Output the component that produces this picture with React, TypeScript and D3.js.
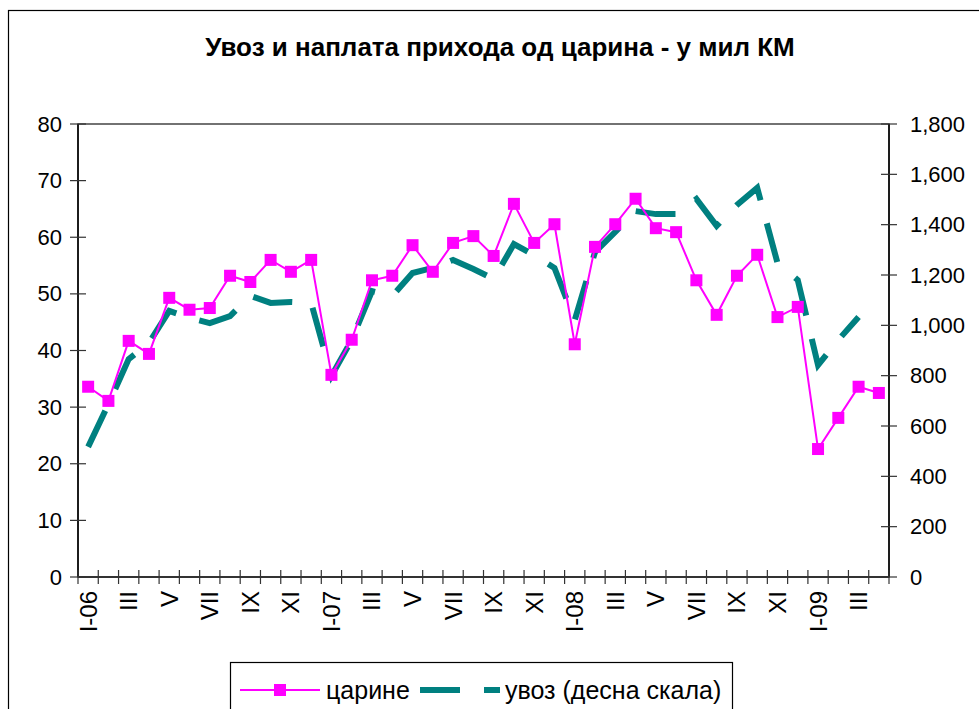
import React from 'react'
import * as d3 from 'd3'

// months Jan 2006 - Apr 2009
const months = [
  'I-06', 'II', 'III', 'IV', 'V', 'VI', 'VII', 'VIII', 'IX', 'X', 'XI', 'XII',
  'I-07', 'II', 'III', 'IV', 'V', 'VI', 'VII', 'VIII', 'IX', 'X', 'XI', 'XII',
  'I-08', 'II', 'III', 'IV', 'V', 'VI', 'VII', 'VIII', 'IX', 'X', 'XI', 'XII',
  'I-09', 'II', 'III', 'IV'
]

// царине, left scale
const customs = [
  33.6, 31.1, 41.7, 39.4, 49.3, 47.2, 47.5, 53.2, 52.1, 56.0, 53.9, 56.0,
  35.7, 41.9, 52.4, 53.2, 58.6, 53.9, 59.0, 60.2, 56.7, 65.9, 59.0, 62.3,
  41.1, 58.3, 62.3, 66.8, 61.6, 60.9, 52.4, 46.3, 53.2, 56.9, 45.9, 47.7,
  22.6, 28.1, 33.6, 32.5
]

// увоз, right scale (ends in March 2009)
const imports = [
  517, 687, 866, 930, 1057, 1029, 1009, 1037, 1117, 1089, 1093, 1089,
  799, 942, 1136, 1117, 1208, 1228, 1260, 1224, 1184, 1323, 1279, 1228,
  1021, 1291, 1371, 1454, 1442, 1442, 1502, 1395, 1478, 1546, 1248, 1180,
  842, 942, 1033
]

const leftTicks = [0, 10, 20, 30, 40, 50, 60, 70, 80]
const rightTicks = [0, 200, 400, 600, 800, 1000, 1200, 1400, 1600, 1800]

const title = 'Увоз и наплата прихода од царина - у мил КМ'
const font = '"Liberation Sans", Arial, sans-serif'

export default function App() {
  const plot = { left: 78, right: 889, top: 124, bottom: 577 }

  const x = d3.scaleBand<number>()
    .domain(d3.range(months.length))
    .range([plot.left, plot.right])
  const cx = (i: number) => (x(i) as number) + x.bandwidth() / 2

  const yLeft = d3.scaleLinear().domain([0, 80]).range([plot.bottom, plot.top])
  const yRight = d3.scaleLinear().domain([0, 1800]).range([plot.bottom, plot.top])

  const customsLine = d3.line<number>()
    .x((d, i) => cx(i))
    .y(d => yLeft(d))
  const importsLine = d3.line<number>()
    .x((d, i) => cx(i))
    .y(d => yRight(d))

  const boundaries = d3.range(months.length + 1).map(i => plot.left + i * x.step())

  return (
    <svg width={979} height={709} style={{ position: 'absolute', left: 0, top: 0 }} fontFamily={font}>
      <rect x={0} y={0} width={979} height={709} fill="#fff" />
      <rect x={8.5} y={10.5} width={1100} height={1000} fill="none" stroke="#000" strokeWidth={1.2} />

      <text x={500} y={56} textAnchor="middle" fontSize={26} fontWeight="bold">{title}</text>

      {/* plot frame */}
      <rect x={plot.left} y={plot.top} width={plot.right - plot.left} height={plot.bottom - plot.top}
        fill="none" stroke="#444" strokeWidth={1.5} />
      <line x1={plot.left} x2={plot.left} y1={plot.top} y2={plot.bottom} stroke="#000" strokeWidth={1.5} />
      <line x1={plot.right} x2={plot.right} y1={plot.top} y2={plot.bottom} stroke="#000" strokeWidth={1.5} />
      <line x1={plot.left} x2={plot.right} y1={plot.bottom} y2={plot.bottom} stroke="#333" strokeWidth={2} />

      {/* left axis */}
      {leftTicks.map(t => (
        <g key={'l' + t}>
          <line x1={plot.left - 8} x2={plot.left + 8} y1={yLeft(t)} y2={yLeft(t)} stroke="#333" strokeWidth={1.2} />
          <text x={62} y={yLeft(t)} textAnchor="end" dominantBaseline="central" fontSize={22}>{t}</text>
        </g>
      ))}

      {/* right axis */}
      {rightTicks.map(t => (
        <g key={'r' + t}>
          <line x1={plot.right - 8} x2={plot.right + 8} y1={yRight(t)} y2={yRight(t)} stroke="#333" strokeWidth={1.2} />
          <text x={910} y={yRight(t)} textAnchor="start" dominantBaseline="central" fontSize={22}>
            {d3.format(',')(t)}
          </text>
        </g>
      ))}

      {/* category ticks */}
      {boundaries.map((b, i) => (
        <line key={'b' + i} x1={b} x2={b} y1={plot.bottom - 7} y2={plot.bottom + 7} stroke="#333" strokeWidth={1.2} />
      ))}
      {months.map((m, i) => i % 2 === 0 ? (
        <text key={'m' + i} transform={`translate(${cx(i)},591) rotate(-90)`}
          textAnchor="end" dominantBaseline="central" fontSize={24}>{m}</text>
      ) : null)}

      {/* увоз */}
      <path d={importsLine(imports) || ''} fill="none" stroke="#008080" strokeWidth={6}
        strokeDasharray="40 24" />

      {/* царине */}
      <path d={customsLine(customs) || ''} fill="none" stroke="#ff00ff" strokeWidth={2} />
      {customs.map((v, i) => (
        <rect key={'p' + i} x={cx(i) - 6} y={yLeft(v) - 6} width={12} height={12} fill="#ff00ff" />
      ))}

      {/* legend */}
      <rect x={230.5} y={662.5} width={502} height={80} fill="#fff" stroke="#000" strokeWidth={1.2} />
      <line x1={240} x2={320} y1={690} y2={690} stroke="#ff00ff" strokeWidth={2} />
      <rect x={274} y={684} width={12} height={12} fill="#ff00ff" />
      <text x={326} y={690} dominantBaseline="central" fontSize={25}>царине</text>
      <line x1={420} x2={500} y1={690} y2={690} stroke="#008080" strokeWidth={6} strokeDasharray="40 24" />
      <text x={505} y={690} dominantBaseline="central" fontSize={25}>увоз (десна скала)</text>
    </svg>
  )
}
